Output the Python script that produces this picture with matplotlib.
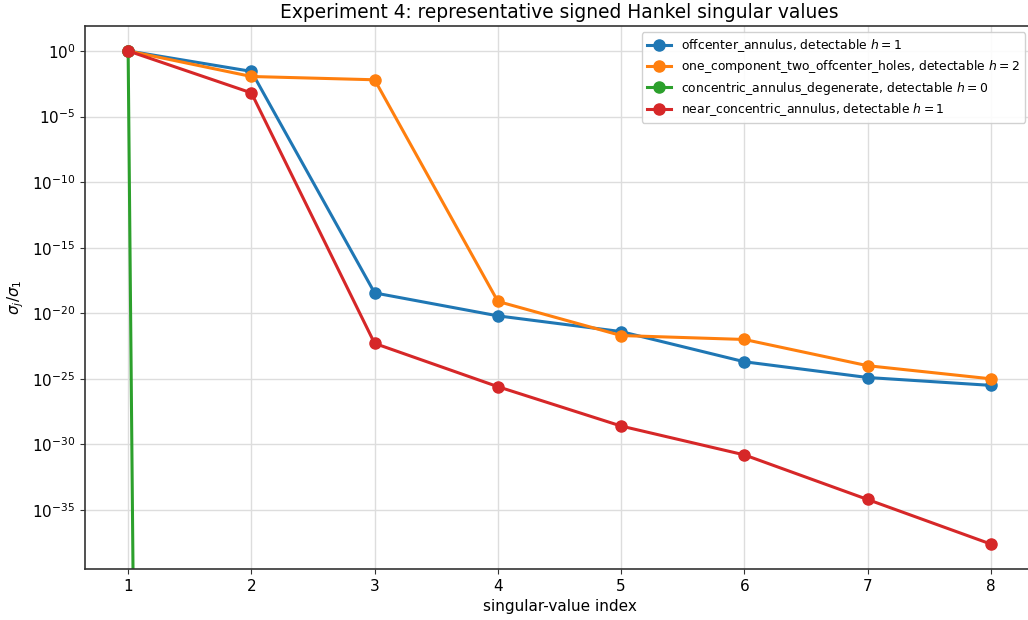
import numpy as np
import matplotlib
matplotlib.use("Agg")
import matplotlib.pyplot as plt

index = [1, 2, 3, 4, 5, 6, 7, 8]

# exponents (sigma_j / sigma_1)
offcenter_exp = [0.0, -1.56, -18.45, -20.2, -21.4, -23.7, -24.9, -25.5]
two_holes_exp = [0.0, -1.95, -2.2, -19.1, -21.7, -22.0, -24.0, -25.0]
near_concentric_exp = [0.0, -3.2, -22.3, -25.6, -28.6, -30.8, -34.2, -37.6]
degenerate = [1.0, 0.0, 0.0, 0.0, 0.0, 0.0, 0.0, 0.0]

labels = [
    r"offcenter_annulus, detectable $h=1$",
    r"one_component_two_offcenter_holes, detectable $h=2$",
    r"concentric_annulus_degenerate, detectable $h=0$",
    r"near_concentric_annulus, detectable $h=1$",
]

series = [
    10.0 ** np.array(offcenter_exp),
    10.0 ** np.array(two_holes_exp),
    np.array(degenerate),
    10.0 ** np.array(near_concentric_exp),
]

fig = plt.figure(figsize=(10.28, 6.2), dpi=100)
ax = fig.add_axes([85 / 1028, 51 / 620, 949 / 1028, 543 / 620])

for vals, lab in zip(series, labels):
    ax.plot(index, vals, marker="o", lw=2.2, ms=8, label=lab)

ax.set_yscale("log")
ax.set_xlim(0.65, 8.35)
ax.set_ylim(10 ** -39.5, 10 ** 1.9)
ax.set_yticks([10.0 ** k for k in range(0, -40, -5)])
ax.minorticks_off()
ax.grid(True, color="#dddddd", lw=1)
ax.set_axisbelow(True)
for s in ax.spines.values():
    s.set_color("#333333")
    s.set_linewidth(1.2)
ax.tick_params(labelsize=11, color="#333333")

ax.set_xlabel("singular-value index", fontsize=11)
ax.set_ylabel(r"$\sigma_j/\sigma_1$", fontsize=11)
ax.set_title("Experiment 4: representative signed Hankel singular values", fontsize=13.4)
ax.legend(loc="upper right", bbox_to_anchor=(0.997, 1.0), fontsize=8.9,
          labelspacing=0.35, framealpha=0.9)

fig.savefig("out.png", dpi=100)
